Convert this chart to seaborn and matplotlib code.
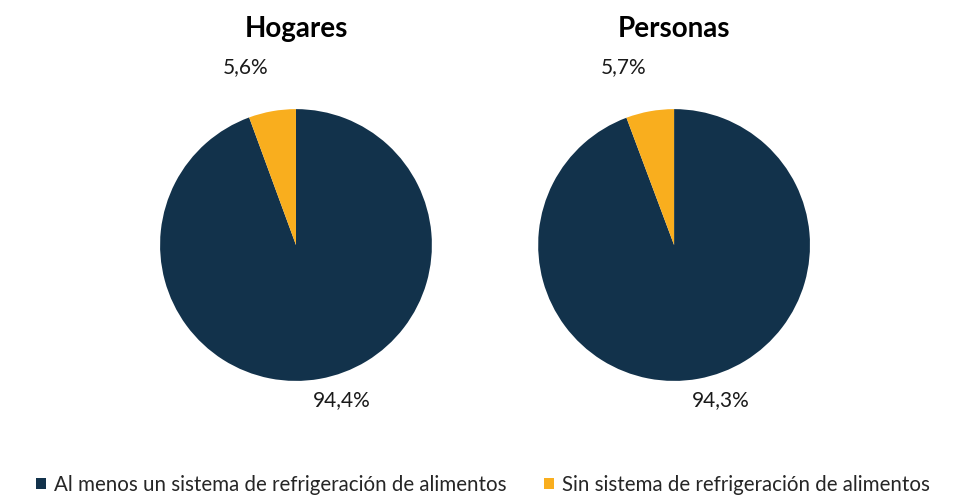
import matplotlib
matplotlib.use("Agg")
import matplotlib.pyplot as plt
import seaborn as sns

# data
groups = ['Hogares', 'Personas']
categories = ['Al menos un sistema de refrigeración de alimentos',
              'Sin sistema de refrigeración de alimentos']
with_fridge = [94.4, 94.3]
without_fridge = [5.6, 5.7]

sns.set_theme(style='white')
plt.rcParams['font.family'] = ['Lato', 'DejaVu Sans']

colors = sns.color_palette(['#12324b', '#f9ae1e'])

fig = plt.figure(figsize=(9.66, 4.96), dpi=100)
axes_pos = [[0.1656, 0.232, 0.2816, 0.548], [0.557, 0.232, 0.2816, 0.548]]

# label positions (pie units) for big / small slice
big_lbl = (0.34, -1.14)
small_lbl = (-0.37, 1.31)

wedges = None
for i, g in enumerate(groups):
    ax = fig.add_axes(axes_pos[i])
    vals = [with_fridge[i], without_fridge[i]]
    w, _ = ax.pie(vals, colors=colors, startangle=90, counterclock=False, radius=1,
                  wedgeprops=dict(linewidth=0))
    wedges = w
    ax.set_xlim(-1, 1)
    ax.set_ylim(-1, 1)
    ax.set_aspect('equal')
    fmt = lambda v: f"{v:.1f}%".replace('.', ',')
    ax.text(big_lbl[0], big_lbl[1], fmt(vals[0]), ha='center', va='center',
            fontsize=15, color='#1a1a1a', clip_on=False)
    ax.text(small_lbl[0], small_lbl[1], fmt(vals[1]), ha='center', va='center',
            fontsize=15, color='#1a1a1a', clip_on=False)
    fig.text(axes_pos[i][0] + axes_pos[i][2] / 2, 0.942, g, ha='center', va='center',
             fontsize=20, fontweight='bold', color='black')

fig.legend(wedges, categories, loc='lower center', ncol=2, frameon=False,
           fontsize=14.8, handlelength=0.5, handleheight=0.5, handletextpad=0.4,
           columnspacing=1.8, bbox_to_anchor=(0.5, -0.035))

fig.savefig('out.png', dpi=100)
